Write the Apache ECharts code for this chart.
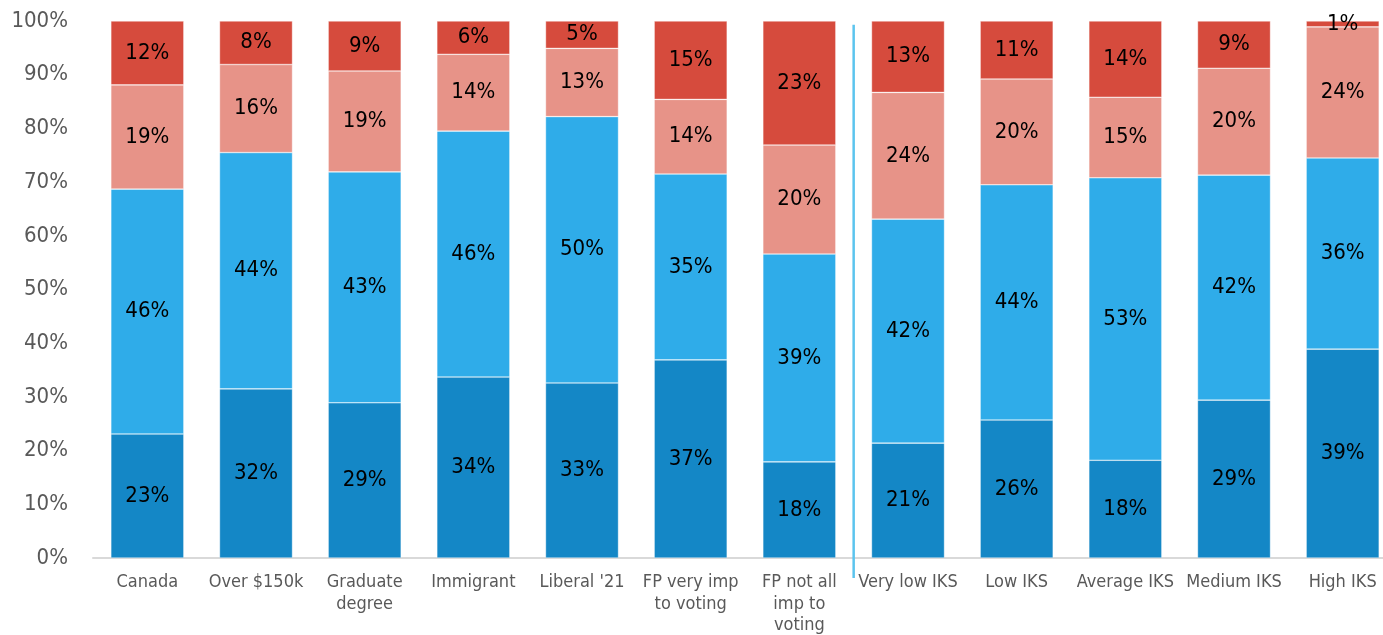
<!DOCTYPE html>
<html>
<head>
<meta charset="utf-8">
<script src="https://cdn.jsdelivr.net/npm/echarts@6/dist/echarts.min.js"></script>
<style>
html,body{margin:0;padding:0;background:#fff;}
#chart{width:1383px;height:635px;}
</style>
</head>
<body>
<div id="chart"></div>
<script>
var categories = ['Canada', 'Over $150k', 'Graduate\ndegree', 'Immigrant', "Liberal '21", 'FP very imp\nto voting', 'FP not all\nimp to\nvoting', 'Very low IKS', 'Low IKS', 'Average IKS', 'Medium IKS', 'High IKS'];
var seg1 = [23.1, 31.5, 28.9, 33.7, 32.6, 36.9, 17.9, 21.4, 25.7, 18.2, 29.4, 38.9];
var seg2 = [45.6, 44.0, 43.0, 45.8, 49.6, 34.6, 38.7, 41.7, 43.8, 52.6, 41.9, 35.6];
var seg3 = [19.4, 16.4, 18.8, 14.3, 12.7, 13.9, 20.3, 23.6, 19.7, 15.0, 19.9, 24.4];
var seg4 = [11.9, 8.1, 9.3, 6.2, 5.1, 14.6, 23.1, 13.3, 10.8, 14.2, 8.8, 1.1];
var yTicks = [0, 10, 20, 30, 40, 50, 60, 70, 80, 90, 100];
var seriesData = [seg1, seg2, seg3, seg4];
var colors = ['#1487C6', '#2FACE9', '#E79388', '#D64B3D'];
var FONT = '"DejaVu Sans Condensed", "DejaVu Sans", sans-serif';

var chart = echarts.init(document.getElementById('chart'));
var series = seriesData.map(function (d, i) {
  return {
    type: 'bar',
    stack: 'total',
    data: d,
    barWidth: 73,
    itemStyle: { color: colors[i], borderColor: 'rgba(255,255,255,0.6)', borderWidth: 0.6 },
    label: {
      show: true,
      position: 'inside',
      color: '#000',
      fontFamily: FONT,
      fontSize: 22,
      formatter: function (p) { return Math.round(p.value) + '%'; }
    }
  };
});

chart.setOption({
  animation: false,
  grid: { left: 93, top: 21, right: -14, bottom: 77, containLabel: false, outerBoundsMode: 'none' },
  xAxis: {
    type: 'category',
    data: categories,
    axisTick: { show: false },
    axisLine: { show: true, lineStyle: { color: '#D9D9D9', width: 2 } },
    axisLabel: { color: '#595959', fontFamily: FONT, fontSize: 18, lineHeight: 21.5, margin: 14, interval: 0 }
  },
  yAxis: {
    type: 'value',
    min: yTicks[0],
    max: yTicks[yTicks.length - 1],
    interval: yTicks[1] - yTicks[0],
    splitLine: { show: false },
    axisLine: { show: false },
    axisTick: { show: false },
    axisLabel: { color: '#595959', fontFamily: FONT, fontSize: 22, margin: 25, formatter: '{value}%' }
  },
  series: series
});

// separator line between the two category groups, positioned via the axes
var xa = chart.convertToPixel({ xAxisIndex: 0 }, categories[6]);
var xb = chart.convertToPixel({ xAxisIndex: 0 }, categories[7]);
var xs = (xa + xb) / 2;
var yTop = chart.convertToPixel({ yAxisIndex: 0 }, 99.3);
var yBot = chart.convertToPixel({ yAxisIndex: 0 }, 0) + 20;
chart.setOption({
  graphic: [{
    type: 'line',
    shape: { x1: xs, y1: yTop, x2: xs, y2: yBot },
    style: { stroke: '#5BC4EE', lineWidth: 2.5 },
    z: 10
  }]
});
</script>
</body>
</html>
